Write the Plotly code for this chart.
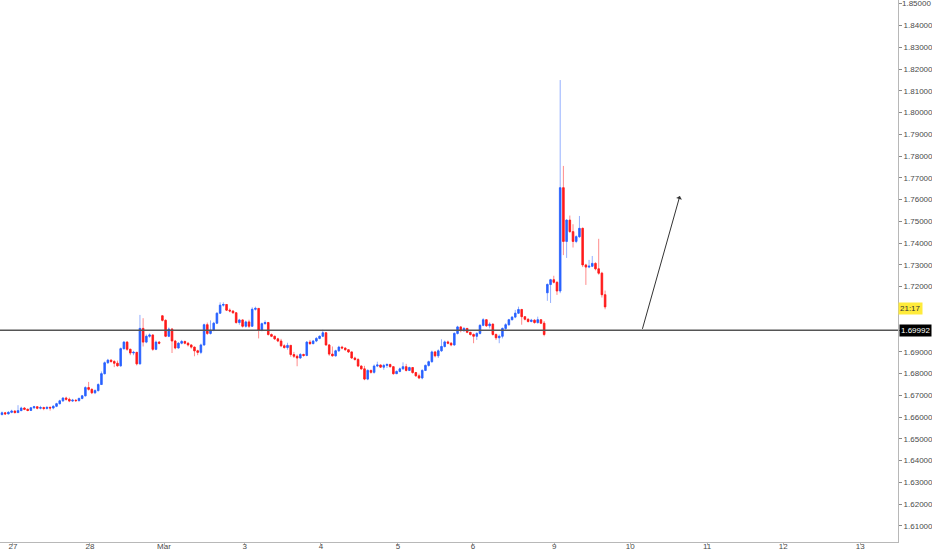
import plotly.graph_objects as go

# Hourly candles, 27 Feb - 9 Mar (weekend hours skipped)
opens = [
    1.6612, 1.6620, 1.6615, 1.6622, 1.6628, 1.6621, 1.6630, 1.6642, 1.6636, 1.6631,
    1.6643, 1.6648, 1.6641, 1.6644, 1.6640, 1.6645, 1.6642, 1.6650, 1.6662, 1.6675,
    1.6688, 1.6682, 1.6674, 1.6678, 1.6676, 1.6686, 1.6698, 1.6736, 1.6728, 1.6712,
    1.6722, 1.6750, 1.6800, 1.6850, 1.6862, 1.6856, 1.6848, 1.6836, 1.6915, 1.6945,
    1.6912, 1.6895, 1.6898, 1.6845, 1.7008, 1.6945, 1.6972, 1.6978, 1.6912, 1.6945,
    1.7066, 1.7045, 1.6972, 1.7005, 1.6950, 1.6918, 1.6940, 1.6948, 1.6940, 1.6932,
    1.6922, 1.6905, 1.6898, 1.6932, 1.7025, 1.6985, 1.7000, 1.7032, 1.7078, 1.7115,
    1.7118, 1.7092, 1.7088, 1.7080, 1.7035, 1.7047, 1.7018, 1.7038, 1.7018, 1.7096,
    1.7100, 1.7000, 1.7030, 1.7035, 1.6980, 1.6972, 1.6960, 1.6950, 1.6928, 1.6920,
    1.6930, 1.6888, 1.6880, 1.6872, 1.6888, 1.6884, 1.6945, 1.6938, 1.6950, 1.6962,
    1.6972, 1.6988, 1.6932, 1.6890, 1.6882, 1.6905, 1.6922, 1.6918, 1.6910, 1.6900,
    1.6872, 1.6865, 1.6835, 1.6822, 1.6775, 1.6815, 1.6806, 1.6835, 1.6840, 1.6830,
    1.6838, 1.6842, 1.6832, 1.6800, 1.6810, 1.6822, 1.6832, 1.6815, 1.6828, 1.6805,
    1.6790, 1.6780, 1.6815, 1.6838, 1.6855, 1.6900, 1.6882, 1.6905, 1.6925, 1.6946,
    1.6940, 1.6932, 1.6985, 1.7015, 1.6998, 1.7008, 1.6990, 1.6980, 1.6972, 1.6985,
    1.7022, 1.7048, 1.7020, 1.7028, 1.6980, 1.6965, 1.6972, 1.7008, 1.7025, 1.7048,
    1.7060, 1.7078, 1.7095, 1.7062, 1.7050, 1.7040, 1.7046, 1.7035, 1.7048, 1.7032,
    1.7172, 1.7210, 1.7232, 1.7220, 1.7180, 1.7655, 1.7408, 1.7506, 1.7453, 1.7408,
    1.7430, 1.7468, 1.7300, 1.7290, 1.7294, 1.7307, 1.7282, 1.7262, 1.7163,
]
highs = [
    1.6626, 1.6624, 1.6628, 1.6634, 1.6632, 1.6655, 1.6648, 1.6646, 1.6640, 1.6646,
    1.6652, 1.6650, 1.6652, 1.6648, 1.6650, 1.6649, 1.6655, 1.6666, 1.6680, 1.6692,
    1.6694, 1.6690, 1.6684, 1.6682, 1.6690, 1.6702, 1.6742, 1.6762, 1.6732, 1.6728,
    1.6756, 1.6810, 1.6856, 1.6868, 1.6866, 1.6862, 1.6860, 1.6920, 1.6950, 1.6950,
    1.6915, 1.6905, 1.6900, 1.7070, 1.7055, 1.6980, 1.6985, 1.6980, 1.6952, 1.6950,
    1.7068, 1.7050, 1.7012, 1.7010, 1.6955, 1.6945, 1.6955, 1.6952, 1.6945, 1.6935,
    1.6925, 1.6910, 1.6938, 1.7030, 1.7035, 1.7045, 1.7038, 1.7082, 1.7128, 1.7128,
    1.7120, 1.7100, 1.7092, 1.7082, 1.7052, 1.7050, 1.7044, 1.7048, 1.7105, 1.7108,
    1.7102, 1.7035, 1.7045, 1.7038, 1.6985, 1.6975, 1.6965, 1.6960, 1.6935, 1.6942,
    1.6932, 1.6900, 1.6888, 1.6895, 1.6892, 1.6950, 1.6955, 1.6955, 1.6968, 1.6976,
    1.7002, 1.6992, 1.6936, 1.6925, 1.6910, 1.6928, 1.6928, 1.6920, 1.6912, 1.6902,
    1.6878, 1.6872, 1.6838, 1.6836, 1.6820, 1.6818, 1.6842, 1.6855, 1.6842, 1.6845,
    1.6848, 1.6846, 1.6835, 1.6815, 1.6828, 1.6852, 1.6845, 1.6832, 1.6830, 1.6808,
    1.6800, 1.6820, 1.6842, 1.6860, 1.6906, 1.6905, 1.6912, 1.6958, 1.6952, 1.6952,
    1.6945, 1.6990, 1.7020, 1.7018, 1.7014, 1.7010, 1.6992, 1.6985, 1.6990, 1.7028,
    1.7055, 1.7050, 1.7036, 1.7030, 1.6985, 1.6980, 1.7012, 1.7032, 1.7052, 1.7065,
    1.7093, 1.7108, 1.7098, 1.7065, 1.7055, 1.7052, 1.7050, 1.7062, 1.7050, 1.7042,
    1.7215, 1.7236, 1.7250, 1.7225, 1.8150, 1.7755, 1.7510, 1.7527, 1.7487, 1.7436,
    1.7525, 1.7472, 1.7305, 1.7323, 1.7341, 1.7312, 1.7420, 1.7268, 1.7182,
]
lows = [
    1.6608, 1.6610, 1.6612, 1.6618, 1.6617, 1.6619, 1.6628, 1.6632, 1.6627, 1.6629,
    1.6638, 1.6636, 1.6636, 1.6632, 1.6635, 1.6630, 1.6636, 1.6646, 1.6658, 1.6670,
    1.6676, 1.6669, 1.6670, 1.6670, 1.6672, 1.6682, 1.6695, 1.6722, 1.6706, 1.6706,
    1.6718, 1.6748, 1.6796, 1.6845, 1.6850, 1.6830, 1.6832, 1.6832, 1.6910, 1.6905,
    1.6885, 1.6885, 1.6838, 1.6842, 1.6925, 1.6940, 1.6965, 1.6905, 1.6908, 1.6935,
    1.7040, 1.6968, 1.6968, 1.6895, 1.6912, 1.6915, 1.6935, 1.6935, 1.6925, 1.6915,
    1.6880, 1.6885, 1.6890, 1.6928, 1.6978, 1.6980, 1.6995, 1.7028, 1.7075, 1.7108,
    1.7088, 1.7082, 1.7075, 1.7030, 1.7025, 1.7012, 1.7012, 1.7010, 1.7015, 1.7090,
    1.6962, 1.6995, 1.7025, 1.6975, 1.6968, 1.6955, 1.6945, 1.6922, 1.6915, 1.6910,
    1.6878, 1.6872, 1.6834, 1.6868, 1.6878, 1.6880, 1.6932, 1.6935, 1.6945, 1.6958,
    1.6968, 1.6928, 1.6882, 1.6878, 1.6878, 1.6900, 1.6912, 1.6905, 1.6895, 1.6868,
    1.6860, 1.6830, 1.6818, 1.6770, 1.6770, 1.6800, 1.6800, 1.6830, 1.6826, 1.6818,
    1.6826, 1.6828, 1.6795, 1.6798, 1.6806, 1.6818, 1.6810, 1.6812, 1.6800, 1.6786,
    1.6775, 1.6774, 1.6812, 1.6832, 1.6850, 1.6875, 1.6872, 1.6900, 1.6920, 1.6935,
    1.6926, 1.6928, 1.6980, 1.6990, 1.6992, 1.6986, 1.6975, 1.6940, 1.6955, 1.6980,
    1.7018, 1.7015, 1.7008, 1.6975, 1.6955, 1.6940, 1.6962, 1.7000, 1.7020, 1.7045,
    1.7055, 1.7075, 1.7025, 1.7045, 1.7035, 1.7036, 1.7030, 1.7030, 1.7028, 1.6972,
    1.7135, 1.7125, 1.7215, 1.7162, 1.7170, 1.7345, 1.7332, 1.7448, 1.7380, 1.7400,
    1.7424, 1.7290, 1.7208, 1.7285, 1.7290, 1.7275, 1.7255, 1.7150, 1.7096,
]
closes = [
    1.6620, 1.6615, 1.6622, 1.6628, 1.6621, 1.6630, 1.6642, 1.6636, 1.6631, 1.6643,
    1.6648, 1.6641, 1.6644, 1.6640, 1.6645, 1.6642, 1.6650, 1.6662, 1.6675, 1.6688,
    1.6682, 1.6674, 1.6678, 1.6676, 1.6686, 1.6698, 1.6736, 1.6728, 1.6712, 1.6722,
    1.6750, 1.6800, 1.6850, 1.6862, 1.6856, 1.6848, 1.6836, 1.6915, 1.6945, 1.6912,
    1.6895, 1.6898, 1.6845, 1.7008, 1.6945, 1.6972, 1.6978, 1.6912, 1.6945, 1.6940,
    1.7045, 1.6972, 1.7005, 1.6950, 1.6918, 1.6940, 1.6948, 1.6940, 1.6932, 1.6922,
    1.6905, 1.6898, 1.6932, 1.7025, 1.6985, 1.7000, 1.7032, 1.7078, 1.7115, 1.7118,
    1.7092, 1.7088, 1.7080, 1.7035, 1.7047, 1.7018, 1.7038, 1.7018, 1.7096, 1.7100,
    1.7000, 1.7030, 1.7035, 1.6980, 1.6972, 1.6960, 1.6950, 1.6928, 1.6920, 1.6930,
    1.6888, 1.6880, 1.6872, 1.6888, 1.6884, 1.6945, 1.6938, 1.6950, 1.6962, 1.6972,
    1.6988, 1.6932, 1.6890, 1.6882, 1.6905, 1.6922, 1.6918, 1.6910, 1.6900, 1.6872,
    1.6865, 1.6835, 1.6822, 1.6775, 1.6815, 1.6806, 1.6835, 1.6840, 1.6830, 1.6838,
    1.6842, 1.6832, 1.6800, 1.6810, 1.6822, 1.6832, 1.6815, 1.6828, 1.6805, 1.6790,
    1.6780, 1.6815, 1.6838, 1.6855, 1.6900, 1.6882, 1.6905, 1.6925, 1.6946, 1.6940,
    1.6932, 1.6985, 1.7015, 1.6998, 1.7008, 1.6990, 1.6980, 1.6972, 1.6985, 1.7022,
    1.7048, 1.7020, 1.7028, 1.6980, 1.6965, 1.6972, 1.7008, 1.7025, 1.7048, 1.7060,
    1.7078, 1.7095, 1.7062, 1.7050, 1.7040, 1.7046, 1.7035, 1.7048, 1.7032, 1.6980,
    1.7210, 1.7232, 1.7220, 1.7180, 1.7655, 1.7408, 1.7506, 1.7453, 1.7408, 1.7430,
    1.7468, 1.7300, 1.7290, 1.7294, 1.7307, 1.7282, 1.7262, 1.7163, 1.7107,
]

# day labels and the bar position where each day starts
day_labels = ["27", "28", "Mar", "3", "4", "5", "6", "9", "10", "11", "12", "13"]
day_starts = [3.4, 27.4, 50.5, 75.7, 99.4, 123.4, 146.8, 172.1, 195.8, 219.8, 243.5, 267.5]

price_ticks = [round(1.61 + 0.01 * k, 2) for k in range(25)]
top_tick = price_ticks[-1]
# 1.70 sits under the black price tag, 1.71 under the countdown tag;
# the top one is placed by hand so it is not dropped at the edge
hidden = (1.70, 1.71, top_tick)
price_text = ["" if any(abs(p - h) < 1e-9 for h in hidden) else f"{p:.5f}"
              for p in price_ticks]

support_level = 1.69992
last_price = 1.7098
countdown = "21:17"
arrow_from = (199.5, 1.6999)
arrow_to = (211.3, 1.7617)

BLUE = "#2962ff"
RED = "#ff1a1a"

bars = list(range(len(closes)))
body_hi = [max(o, c) for o, c in zip(opens, closes)]
body_lo = [min(o, c) for o, c in zip(opens, closes)]

fig = go.Figure()

# wicks (light)
fig.add_trace(go.Candlestick(
    x=bars, open=opens, high=highs, low=lows, close=closes,
    increasing=dict(line=dict(color="rgba(41,98,255,0.5)", width=1),
                    fillcolor="rgba(41,98,255,0.5)"),
    decreasing=dict(line=dict(color="rgba(255,26,26,0.5)", width=1),
                    fillcolor="rgba(255,26,26,0.5)"),
    hoverinfo="skip", showlegend=False,
))
# bodies (solid)
fig.add_trace(go.Candlestick(
    x=bars, open=opens, high=body_hi, low=body_lo, close=closes,
    increasing=dict(line=dict(color=BLUE, width=0.5), fillcolor=BLUE),
    decreasing=dict(line=dict(color=RED, width=0.5), fillcolor=RED),
    hoverinfo="skip", showlegend=False,
))

fig.add_shape(type="line", xref="paper", x0=0, x1=1, yref="y",
              y0=support_level, y1=support_level,
              line=dict(color="#555555", width=1.5))

fig.add_annotation(x=arrow_to[0], y=arrow_to[1], ax=arrow_from[0], ay=arrow_from[1],
                   xref="x", yref="y", axref="x", ayref="y", text="",
                   showarrow=True, arrowhead=1, arrowsize=1, arrowwidth=1,
                   arrowcolor="#333333")

axis_font = dict(size=8, color="#4a4a4a", family="Liberation Sans")

fig.add_annotation(x=1, xref="paper", xanchor="left", xshift=3,
                   y=top_tick, yref="y", yanchor="middle", text=f"{top_tick:.5f}",
                   showarrow=False, borderpad=0, font=axis_font)
fig.add_annotation(x=1, xref="paper", xanchor="left", xshift=1,
                   y=support_level, yref="y", text=f"{support_level:.5f}",
                   showarrow=False, bgcolor="#000000", borderpad=1,
                   font=dict(color="#ffffff", size=8, family="Liberation Sans"))
fig.add_annotation(x=1, xref="paper", xanchor="left", xshift=0,
                   y=last_price, yref="y", text=countdown,
                   showarrow=False, bgcolor="#ffeb3b", borderpad=1,
                   font=dict(color="#333333", size=8, family="Liberation Sans"))

fig.update_layout(
    width=932, height=550,
    margin=dict(l=0, r=34, t=0, b=8),
    plot_bgcolor="#ffffff", paper_bgcolor="#ffffff",
    showlegend=False,
    xaxis=dict(
        range=[-0.62, 279.3], tickvals=day_starts, ticktext=day_labels,
        showgrid=False, zeroline=False, showline=True, linecolor="#b8b8b8",
        ticks="outside", ticklen=2, tickcolor="#b8b8b8", tickfont=axis_font,
        ticklabelstandoff=-6,
        rangeslider=dict(visible=False), automargin=False,
    ),
    yaxis=dict(
        side="right", range=[1.6026, 1.8518], tickvals=price_ticks,
        ticktext=price_text, showgrid=False, zeroline=False, showline=True,
        linecolor="#b8b8b8", ticks="outside", ticklen=3, tickcolor="#888888",
        tickfont=axis_font, automargin=False,
    ),
)

# page body has a default margin; drop it so the figure sits at the corner
fig.write_html("out.html", config={"displayModeBar": False},
               post_script="document.body.style.margin='0';")
